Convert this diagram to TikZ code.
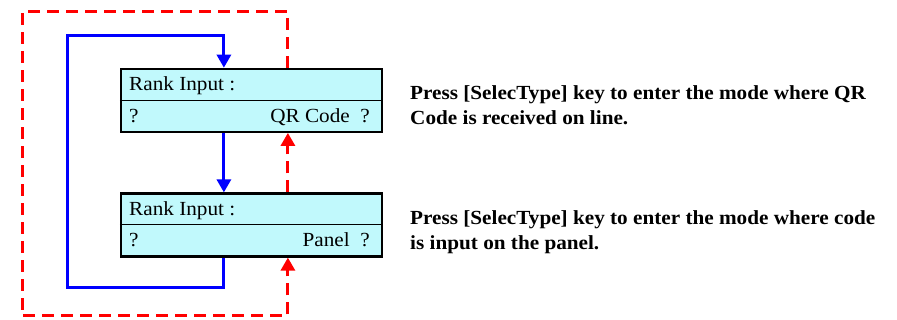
\documentclass[tikz,border=0pt]{standalone}
\usepackage{fontspec}
\setmainfont{Liberation Serif}
\newfontfamily\wideserif[FakeStretch=1.06]{Liberation Serif}
\usetikzlibrary{arrows.meta,calc}
\definecolor{boxfill}{RGB}{193,249,252}
\definecolor{flowblue}{RGB}{0,0,255}
\definecolor{flowred}{RGB}{255,0,0}
\begin{document}
\begin{tikzpicture}[x=1pt,y=-1pt,
  panel/.style={draw=black,line width=2.2pt,fill=boxfill,minimum width=261pt,minimum height=63pt,inner sep=0pt},
  divider/.style={draw=black,line width=1pt},
  boxtext/.style={font=\wideserif\fontsize{20}{22}\selectfont,inner sep=0pt,anchor=base west},
  boxtextr/.style={font=\wideserif\fontsize{20}{22}\selectfont,inner sep=0pt,anchor=base east},
  note/.style={font=\wideserif\bfseries\fontsize{20}{25}\selectfont,align=left,inner sep=0pt,anchor=base west},
  blueflow/.style={draw=flowblue,line width=3pt},
  redflow/.style={draw=flowred,line width=3pt,dash pattern=on 12pt off 7pt},
  tip/.style={-{Triangle[length=13pt,width=14pt]}}
]
\useasboundingbox (0,0) rectangle (897,320);
% boxes
\node[panel] (qr) at (251.5,100.3) {};
\node[panel] (pn) at (251.5,225) {};
\draw[divider] (qr.west) -- (qr.east);
\draw[divider] (pn.west) -- (pn.east);
% box texts
\node[boxtext] (qr1) at (129,91) {Rank Input :};
\node[boxtext] (qr2) at (129,122.5) {?};
\node[boxtextr] (qr3) at (370,122.5) {QR Code\ \ ?};
\node[boxtext] (pn1) at (129,215.5) {Rank Input :};
\node[boxtext] (pn2) at (129,247) {?};
\node[boxtextr] (pn3) at (370,247) {Panel\ \ ?};
% notes (base anchor = baseline of last line)
\node[note] (n1) at (410,125) {Press [SelecType] key to enter the mode where QR\\Code is received on line.};
\node[note] (n2) at (410,250) {Press [SelecType] key to enter the mode where code\\is input on the panel.};
% coordinates
\coordinate (qrT) at ($(qr.north west)+(104,0)$);
\coordinate (qrB) at ($(qr.south west)+(104,0)$);
\coordinate (pnT) at ($(pn.north west)+(104,0)$);
\coordinate (pnB) at ($(pn.south west)+(104,0)$);
\coordinate (qrTr) at ($(qr.north west)+(168,0)$);
\coordinate (qrBr) at ($(qr.south west)+(168,0)$);
\coordinate (pnTr) at ($(pn.north west)+(168,0)$);
\coordinate (pnBr) at ($(pn.south west)+(168,0)$);
\coordinate (bl1) at (67,288);
\coordinate (bl2) at (67,36);
\coordinate (rd1) at (22,12);
\coordinate (rd2) at (22,316);
% blue flows
\draw[blueflow,tip] (qrB) -- (pnT);
\draw[blueflow,tip] (pnB) -- (pnB |- bl1) -- (bl1) -- (bl2) -- (qrT |- bl2) -- (qrT);
% red flows
\draw[redflow,tip] (pnTr) -- (qrBr);
\draw[redflow,tip] (qrTr) -- (qrTr |- rd1) -- (rd1) -- (rd2) -- (pnBr |- rd2) -- (pnBr);
\end{tikzpicture}
\end{document}
